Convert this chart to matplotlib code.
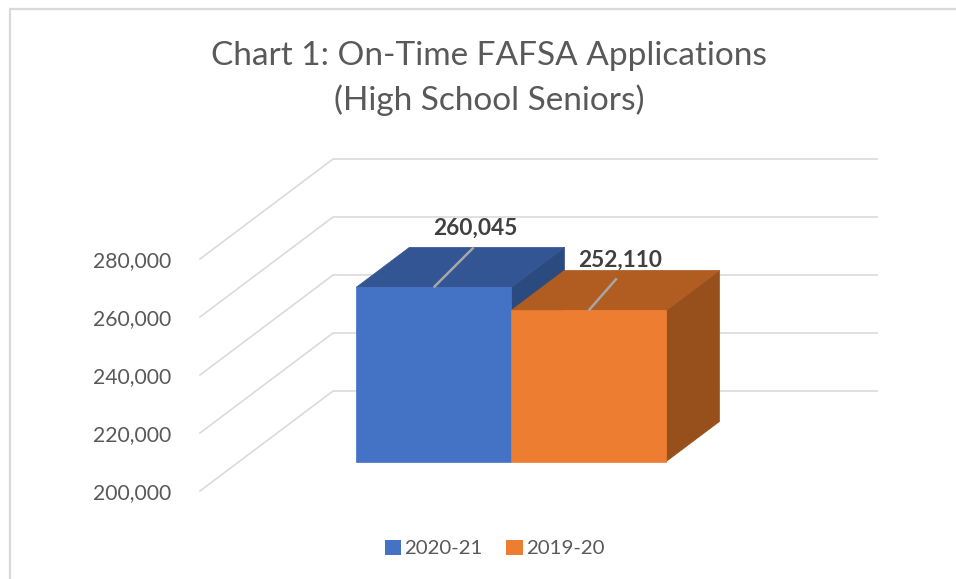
import matplotlib.pyplot as plt
from matplotlib.patches import Polygon, Rectangle

#* Data
series = ['2020-21', '2019-20']
values = [260045, 252110]
value_labels = ['260,045', '252,110']
y_ticks = [200000, 220000, 240000, 260000, 280000]
title = 'Chart 1: On-Time FAFSA Applications\n(High School Seniors)'

FONT = 'Lato'
W, H = 956, 579

#* axes box is the front plane of the chart, in pixels of the figure
AX_LEFT, AX_RIGHT = 200, 744
AX_TOP, AX_BOTTOM = 259, 491

#* how far one unit of depth moves a point on screen, in pixels
DEPTH_X = 133
DEPTH_Y = 100

BAR_WIDTH = 0.285
BAR_D0 = 0.295
BAR_D1 = 0.695

GRID = '#DDDDDD'
FRONT = ['#4472C4', '#ED7D31']
TOP = ['#335593', '#B15C20']
SIDE = ['#2A4A80', '#97501B']


def main() -> None:
  fig = plt.figure(figsize=(W / 100, H / 100), dpi=100)
  fig.patch.set_facecolor('white')
  ax = fig.add_axes([AX_LEFT / W, 1 - AX_BOTTOM / H,
                     (AX_RIGHT - AX_LEFT) / W, (AX_BOTTOM - AX_TOP) / H])
  ax.set_xlim(0, 1)
  ax.set_ylim(y_ticks[0], y_ticks[-1])
  ax.patch.set_alpha(0)
  for spine in ax.spines.values():
    spine.set_visible(False)

  px_x = 1 / (AX_RIGHT - AX_LEFT)
  px_y = (y_ticks[-1] - y_ticks[0]) / (AX_BOTTOM - AX_TOP)

  def project(x, v, d):
    return (x + d * DEPTH_X * px_x, v + d * DEPTH_Y * px_y)

  #* tick labels
  ax.set_xticks([])
  ax.set_yticks(y_ticks)
  ax.set_yticklabels([f'{t:,}' for t in y_ticks], family=FONT, fontsize=15.2,
                     color='#595959')
  ax.tick_params(axis='y', length=0, pad=20.5)

  #* walls
  for t in y_ticks:
    p0 = project(0, t, 0)
    p1 = project(0, t, 1)
    p2 = project(1, t, 1)
    ax.plot([p0[0], p1[0], p2[0]], [p0[1], p1[1], p2[1]], color=GRID, lw=1.3,
            clip_on=False, zorder=1, solid_joinstyle='miter')

  #* bars, the first one at the left of the category centre
  for i, v in enumerate(values):
    x0 = 0.5 + (i - 1) * BAR_WIDTH
    x1 = x0 + BAR_WIDTH
    base = y_ticks[0]
    z = 3 + i
    side = [project(x1, base, BAR_D0), project(x1, base, BAR_D1),
            project(x1, v, BAR_D1), project(x1, v, BAR_D0)]
    top = [project(x0, v, BAR_D0), project(x0, v, BAR_D1),
           project(x1, v, BAR_D1), project(x1, v, BAR_D0)]
    front = [project(x0, base, BAR_D0), project(x0, v, BAR_D0),
             project(x1, v, BAR_D0), project(x1, base, BAR_D0)]
    for pts, col in ((side, SIDE[i]), (top, TOP[i]), (front, FRONT[i])):
      ax.add_patch(Polygon(pts, closed=True, facecolor=col, edgecolor=col,
                           lw=0.5, clip_on=False, zorder=z))

  #* data labels with their leader lines, tips are pixels from the bar top
  leader_tip = [(40, 40), (28, 32)]
  label_offset = [(2, 19), (3, 18)]
  for i, v in enumerate(values):
    xc = 0.5 + (i - 0.5) * BAR_WIDTH
    a = project(xc, v, BAR_D0)
    b = (a[0] + leader_tip[i][0] * px_x, a[1] + leader_tip[i][1] * px_y)
    ax.plot([a[0], b[0]], [a[1], b[1]], color='#A6A6A6', lw=1.8, clip_on=False,
            zorder=6, solid_capstyle='butt')
    ax.annotate(value_labels[i], xy=b, xytext=label_offset[i],
                textcoords='offset pixels', ha='center', va='center',
                family=FONT, fontsize=16.3, fontweight='bold', color='#404040',
                annotation_clip=False, zorder=7)

  #* title
  fig.text(489 / W, 1 - 78.5 / H, title, ha='center', va='center', family=FONT,
           fontsize=24, color='#595959', linespacing=1.53)

  #* legend
  handles = [Rectangle((0, 0), 1, 1, facecolor=c, edgecolor='none') for c in FRONT]
  fig.legend(handles, series, loc='center', bbox_to_anchor=(494.5 / W, 1 - 548.5 / H),
             ncol=2, frameon=False, prop={'family': FONT, 'size': 14.7},
             labelcolor='#595959', handlelength=0.8, handleheight=0.8,
             handletextpad=0.15, columnspacing=1.16, borderpad=0)

  #* chart area border
  fig.add_artist(plt.Line2D([9.5 / W, 9.5 / W, 1], [0, 1 - 8.5 / H, 1 - 8.5 / H],
                            color='#D9D9D9', lw=1.6))

  fig.savefig('out.png', dpi=100)


if __name__ == "__main__":
  main()
